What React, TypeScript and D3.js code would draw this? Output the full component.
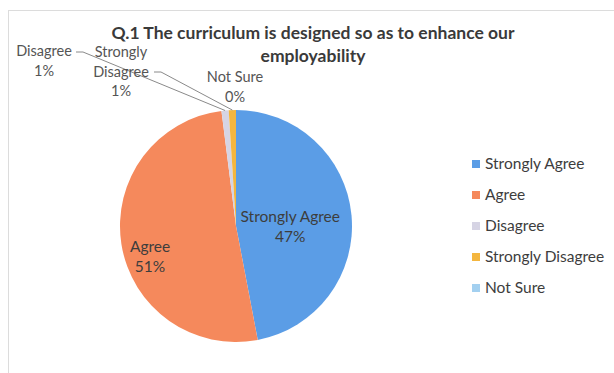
import React from "react";
import * as d3 from "d3";

const categories = ["Strongly Agree", "Agree", "Disagree", "Strongly Disagree", "Not Sure"];
const values = [47, 51, 1, 1, 0];
const percentLabels = ["47%", "51%", "1%", "1%", "0%"];
const colors = ["#5B9DE6", "#F5895C", "#D6D4E4", "#F4B63F", "#A3D0F0"];
const titleLines = ["Q.1 The curriculum is designed so as to enhance our", "employability"];

const W = 614;
const H = 373;
const cx = 236;
const cy = 226;
const R = 116;
const FONT = "Lato, 'Open Sans', sans-serif";

export default function App() {
  const pie = d3.pie<number>().sort(null).value((d) => d)(values);
  const arc = d3.arc<d3.PieArcDatum<number>>().innerRadius(0).outerRadius(R);
  const labelRadius = [0.47, 0.75];
  const labelDy = [3, 14];

  const outside: Record<number, { lines: string[]; x: number; y: number; lx: number; ly: number }> = {
    2: { lines: ["Disagree", "1%"], x: 44, y: 56, lx: 76, ly: 52 },
    3: { lines: ["Strongly", "Disagree", "1%"], x: 121, y: 57, lx: 154, ly: 72 },
    4: { lines: ["Not Sure", "0%"], x: 235, y: 82, lx: 0, ly: 0 },
  };

  const legendY = d3.scalePoint<string>().domain(categories).range([164, 288]);

  return (
    <svg width={W} height={H} style={{ position: "absolute", left: 0, top: 0 }}>
      <rect x={0} y={0} width={W} height={H} fill="#ffffff" />
      <rect x={8.5} y={10.5} width={W} height={H} fill="none" stroke="#dcdcdc" strokeWidth={1} />
      {titleLines.map((t, i) => (
        <text key={i} x={313} y={38.5 + i * 23} textAnchor="middle" fontFamily={FONT} fontWeight="bold" fontSize={17.5} fill="#3a3a3a">
          {t}
        </text>
      ))}
      <g transform={`translate(${cx},${cy})`}>
        {pie.map((d, i) => (
          <path key={i} d={arc(d) || ""} fill={colors[i]} stroke="none" />
        ))}
      </g>
      {pie.map((d, i) => {
        if (i < 2) {
          const a = d3.arc<d3.PieArcDatum<number>>().innerRadius(R * labelRadius[i]).outerRadius(R * labelRadius[i]);
          const [x, y] = a.centroid(d);
          const yy = cy + y + labelDy[i];
          return (
            <text key={i} textAnchor="middle" fontFamily={FONT} fontSize={15.5} fill="#3d3d3d">
              <tspan x={cx + x} y={yy - 2}>{categories[i]}</tspan>
              <tspan x={cx + x} y={yy + 18}>{percentLabels[i]}</tspan>
            </text>
          );
        }
        const o = outside[i];
        const mid = (d.startAngle + d.endAngle) / 2;
        const px = cx + Math.sin(mid) * R;
        const py = cy - Math.cos(mid) * R;
        return (
          <g key={i}>
            <text textAnchor="middle" fontFamily={FONT} fontSize={14.5} fill="#555555">
              {o.lines.map((l, j) => (
                <tspan key={j} x={o.x} y={o.y + j * 19.5}>{l}</tspan>
              ))}
            </text>
            {i < 4 && (
              <polyline
                points={`${o.lx},${o.ly} ${o.lx + 7},${o.ly} ${px},${py}`}
                fill="none"
                stroke="#8a8a8a"
                strokeWidth={1}
              />
            )}
          </g>
        );
      })}
      {categories.map((c, i) => (
        <g key={c} transform={`translate(472,${legendY(c)})`}>
          <rect x={0} y={-4} width={8} height={8} fill={colors[i]} />
          <text x={13} y={5} fontFamily={FONT} fontSize={15.5} fill="#3d3d3d">
            {c}
          </text>
        </g>
      ))}
    </svg>
  );
}
